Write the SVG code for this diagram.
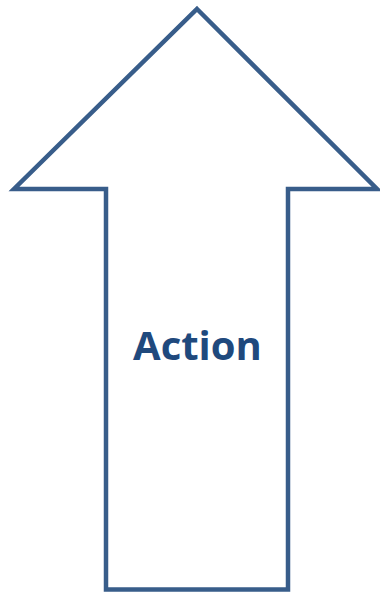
<svg xmlns="http://www.w3.org/2000/svg" width="380" height="592" viewBox="0 0 380 592">
<style>
.arrow{fill:#FFFFFF;stroke:#385D8A;stroke-width:4.5;stroke-linejoin:miter;stroke-miterlimit:10}
.label{font-family:"Open Sans","Liberation Sans",sans-serif;font-weight:700;font-size:40px;fill:#1F497D;text-anchor:middle}
</style>
<rect width="380" height="592" fill="#FFFFFF"/>
<g id="action-arrow">
<polygon class="arrow" points="197,9 377,189 288,189 288,589.5 106,589.5 106,189 14,189"/>
<text class="label" x="197.5" y="360">Action</text>
</g>
</svg>
